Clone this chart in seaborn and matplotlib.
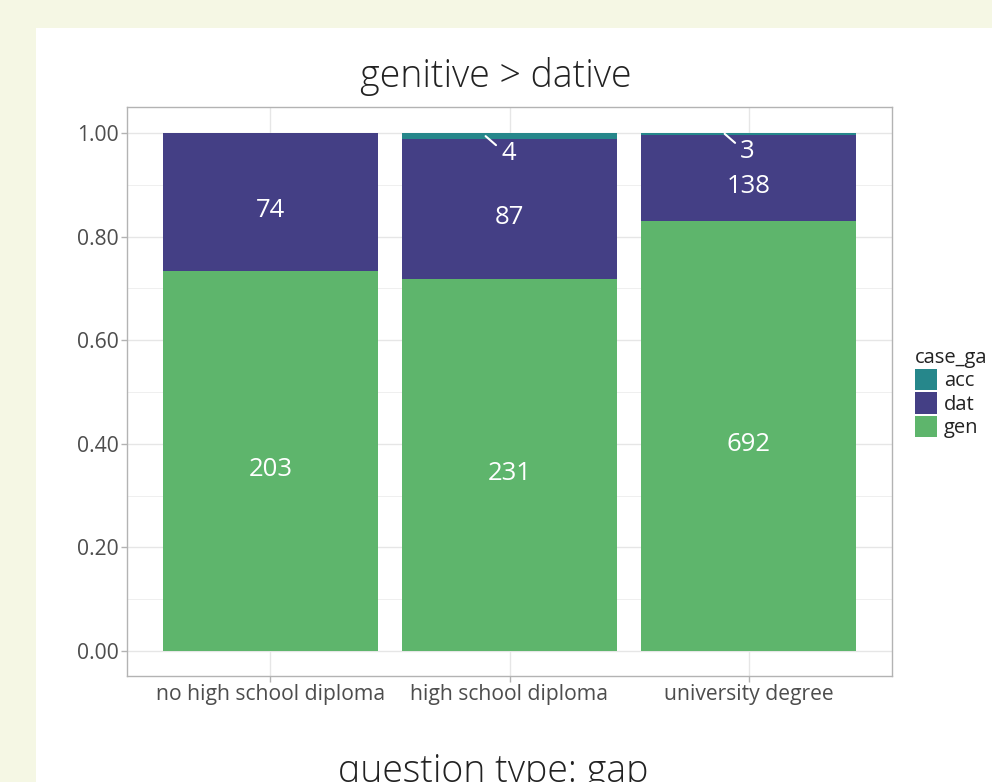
import matplotlib
matplotlib.use("Agg")
import matplotlib.pyplot as plt
import matplotlib.patches as mpatches
from matplotlib.ticker import MultipleLocator, FormatStrFormatter
import numpy as np
import pandas as pd
import seaborn as sns

# ---- data ----
education = ["no high school diploma", "high school diploma", "university degree"]
case_levels = ["acc", "dat", "gen"]
n_acc = [0, 4, 3]
n_dat = [74, 87, 138]
n_gen = [203, 231, 692]

title = "genitive > dative"
subtitle = "question type: gap"
legend_title = "case_ga"

colors = {"acc": "#26878B", "dat": "#443F85", "gen": "#5EB56C"}

rows = []
for i, ed in enumerate(education):
    for c, arr in zip(case_levels, [n_acc, n_dat, n_gen]):
        rows.append({"education": ed, "case_ga": c, "n": arr[i]})
df = pd.DataFrame(rows)
df["education"] = pd.Categorical(df["education"], categories=education, ordered=True)

sns.set_theme(style="white")
plt.rcParams["font.family"] = ["Open Sans", "DejaVu Sans"]

fig = plt.figure(figsize=(9.92, 7.82), dpi=100)
fig.patch.set_facecolor("#F5F7E4")
# white panel
fig.add_artist(mpatches.Rectangle((36 / 992, 0), 1 - 36 / 992, 1 - 28 / 782,
                                  transform=fig.transFigure, facecolor="white",
                                  edgecolor="none", zorder=0))

ax = fig.add_axes([127 / 992, (782 - 676) / 782, (892 - 127) / 992, (676 - 107) / 782])
ax.set_facecolor("white")

sns.histplot(data=df, x="education", hue="case_ga", weights="n",
             hue_order=case_levels, multiple="fill", discrete=True, shrink=0.9,
             palette=colors, linewidth=0, edgecolor="none", alpha=1,
             legend=False, ax=ax)

ax.set_xlim(-0.6, 2.6)
ax.set_ylim(-0.048, 1.05)
ax.set_xticks(range(len(education)))
ax.set_xticklabels(education)
ax.yaxis.set_major_locator(MultipleLocator(0.2))
ax.yaxis.set_minor_locator(MultipleLocator(0.1))
ax.yaxis.set_major_formatter(FormatStrFormatter("%.2f"))
ax.set_xlabel("")
ax.set_ylabel("")
ax.set_axisbelow(True)
ax.grid(True, which="major", color="#E6E6E6", linewidth=1.0)
ax.grid(True, which="minor", axis="y", color="#EFEFEF", linewidth=0.7)
for s in ax.spines.values():
    s.set_visible(True)
    s.set_color("#B3B3B3")
    s.set_linewidth(1.0)
ax.tick_params(axis="both", which="major", length=4, width=1, color="#B3B3B3",
               labelsize=15.2, labelcolor="#4D4D4D", pad=2, bottom=True, left=True)
ax.tick_params(axis="y", which="minor", length=0)

# bar labels
lab_fs = 18.5
for i in range(len(education)):
    tot = n_acc[i] + n_dat[i] + n_gen[i]
    g = n_gen[i] / tot
    d = n_dat[i] / tot
    a = n_acc[i] / tot
    ax.annotate(str(n_gen[i]), (i, g / 2), xytext=(0, -6), textcoords="offset points",
                ha="center", va="center", color="white", fontsize=lab_fs)
    ax.annotate(str(n_dat[i]), (i, g + d / 2), xytext=(0, -6), textcoords="offset points",
                ha="center", va="center", color="white", fontsize=lab_fs)
    if n_acc[i] > 0:
        p = (i - 0.1, g + d + a / 2)
        # leader segment (repel-style)
        ax.annotate("", xy=p, xytext=(7.5, -6.5), textcoords="offset points",
                    arrowprops=dict(arrowstyle="-", color="white", lw=1.5,
                                    shrinkA=0, shrinkB=0))
        ax.annotate(str(n_acc[i]), xy=p, xytext=(16.5, -12.5),
                    textcoords="offset points", ha="center", va="center",
                    color="white", fontsize=lab_fs)

fig.text(496 / 992, 1 - 77 / 782, title, ha="center", va="center",
         fontsize=27, color="#222222", fontweight="light")
fig.text(493 / 992, 1 - 772 / 782, subtitle, ha="center", va="center",
         fontsize=27, color="#222222", fontweight="light")

handles = [mpatches.Patch(facecolor=colors[c], edgecolor="none", label=c) for c in case_levels]
leg = fig.legend(handles=handles, title=legend_title, loc="upper left",
                 bbox_to_anchor=(915 / 992, 1 - 348 / 782), frameon=False,
                 fontsize=14.5, title_fontsize=14.5, handlelength=1.1, handleheight=1.28,
                 labelspacing=0.04, handletextpad=0.35, borderaxespad=0, borderpad=0)
leg._legend_box.align = "left"
for t in leg.get_texts():
    t.set_color("#222222")
leg.get_title().set_color("#222222")

fig.savefig("out.png", dpi=100, facecolor=fig.get_facecolor())
